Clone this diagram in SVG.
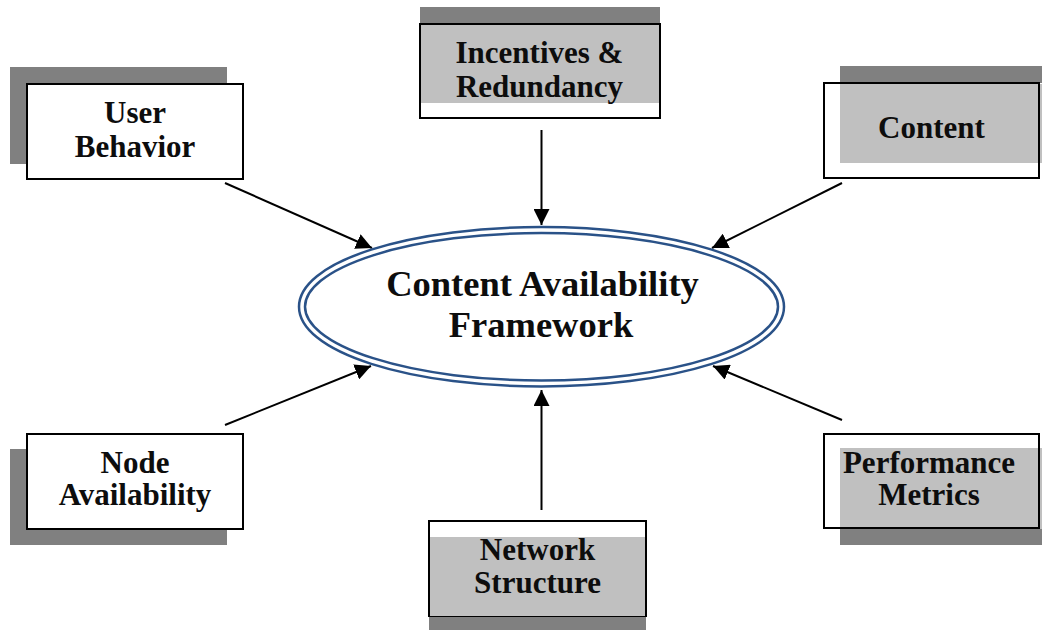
<svg xmlns="http://www.w3.org/2000/svg" width="1042" height="630" viewBox="0 0 1042 630">
  <style>
    .shadow { fill: #808080; }
    .tint { fill: #c0c0c0; }
    .box { fill: #ffffff; stroke: #000000; stroke-width: 2; }
    .frame { fill: none; stroke: #000000; stroke-width: 2; }
    .label { font-family: "Liberation Serif", "Times New Roman", serif; font-weight: bold; font-size: 31px; fill: #0d0d0d; text-anchor: middle; }
    .title { font-family: "Liberation Serif", "Times New Roman", serif; font-weight: bold; font-size: 36.5px; fill: #0d0d0d; text-anchor: middle; }
    .link { stroke: #000000; stroke-width: 2; fill: none; marker-end: url(#arrow); }
  </style>
  <defs>
    <marker id="arrow" markerUnits="userSpaceOnUse" markerWidth="16" markerHeight="16" refX="16" refY="8" orient="auto">
      <path d="M0,0 L16,8 L0,16 Z" fill="#000000"/>
    </marker>
  </defs>
  <rect width="1042" height="630" fill="#ffffff"/>

  <!-- connectors -->
  <g id="connectors">
    <line class="link" x1="225" y1="183" x2="372" y2="248"/>
    <line class="link" x1="541.5" y1="130" x2="541.5" y2="225"/>
    <line class="link" x1="842" y1="183" x2="712" y2="248"/>
    <line class="link" x1="225" y1="425" x2="371" y2="366"/>
    <line class="link" x1="541.5" y1="510" x2="541.5" y2="390"/>
    <line class="link" x1="842" y1="420" x2="713" y2="366"/>
  </g>

  <!-- central framework ellipse with double outline -->
  <g id="node-framework">
    <ellipse cx="541.5" cy="306.75" rx="239.5" ry="76.75" fill="#ffffff" stroke="#2a5288" stroke-width="8.5"/>
    <ellipse cx="541.5" cy="306.75" rx="239.5" ry="76.75" fill="none" stroke="#ffffff" stroke-width="3.5"/>
    <text class="title" x="542.5" y="296">Content Availability</text>
    <text class="title" x="541" y="337">Framework</text>
  </g>

  <g id="node-user-behavior">
    <rect class="shadow" x="10" y="67" width="217" height="97"/>
    <rect class="box" x="27" y="84" width="216" height="95"/>
    <text class="label" x="135" y="123">User</text>
    <text class="label" x="135" y="157">Behavior</text>
  </g>

  <g id="node-incentives">
    <rect class="shadow" x="420" y="7" width="240" height="16"/>
    <rect class="box" x="420" y="24" width="240" height="94"/>
    <rect class="tint" x="421" y="25" width="238" height="78"/>
    <text class="label" x="539.5" y="63">Incentives &amp;</text>
    <text class="label" x="539.5" y="97">Redundancy</text>
  </g>

  <g id="node-content">
    <rect class="shadow" x="840" y="66" width="202" height="17"/>
    <rect class="box" x="824" y="83" width="215" height="95"/>
    <rect class="tint" x="840" y="84" width="202" height="79"/>
    <rect class="frame" x="824" y="83" width="215" height="95"/>
    <text class="label" x="931.5" y="138">Content</text>
  </g>

  <g id="node-availability">
    <rect class="shadow" x="10" y="449" width="217" height="96"/>
    <rect class="box" x="27" y="434" width="216" height="95"/>
    <text class="label" x="135" y="473">Node</text>
    <text class="label" x="135" y="505">Availability</text>
  </g>

  <g id="node-network">
    <rect class="shadow" x="429" y="617" width="217" height="16"/>
    <rect class="box" x="429" y="521" width="217" height="95"/>
    <rect class="tint" x="430" y="537" width="215" height="79"/>
    <text class="label" x="537.5" y="560">Network</text>
    <text class="label" x="537.5" y="593">Structure</text>
  </g>

  <g id="node-performance">
    <rect class="shadow" x="840" y="529" width="202" height="16"/>
    <rect class="box" x="824" y="434" width="215" height="94"/>
    <rect class="tint" x="840" y="448" width="202" height="81"/>
    <rect class="frame" x="824" y="434" width="215" height="94"/>
    <text class="label" x="929" y="473">Performance</text>
    <text class="label" x="929" y="505">Metrics</text>
  </g>
</svg>
